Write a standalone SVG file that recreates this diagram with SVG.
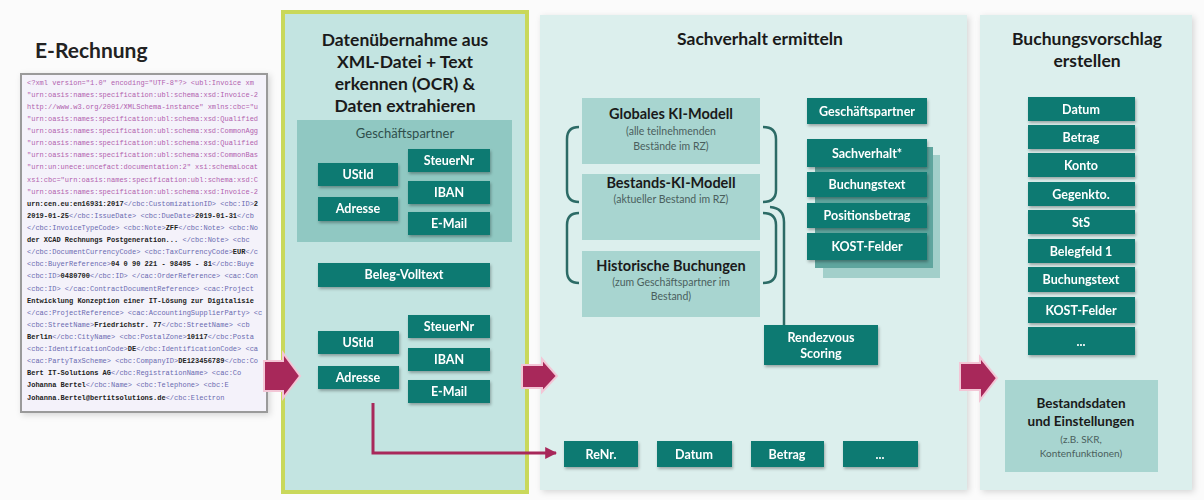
<svg xmlns="http://www.w3.org/2000/svg" width="1204" height="500" viewBox="0 0 1204 500">
<defs>
<style>
text{font-family:Lato,"Open Sans","Liberation Sans",sans-serif}
.box{fill:#0f7a72}
.bt{fill:#ffffff;font-weight:bold;font-size:12.5px;text-anchor:middle}
.title{fill:#1a1a1a;font-weight:bold;font-size:17.5px;text-anchor:middle}
.model{fill:#a8d5d0}
.mt{fill:#1a1a1a;font-weight:bold;font-size:14.5px;text-anchor:middle}
.ms{fill:#4a5f5d;font-size:10.5px;text-anchor:middle}
.brk{fill:none;stroke:#2c6b66;stroke-width:2.5}
.arrow{fill:#a8285a;stroke:#f3c6d6;stroke-width:2}
.xml text{font-family:"Liberation Mono","DejaVu Sans Mono",monospace;font-size:7px}
.xp{fill:#b25fae}
.xb{fill:#6a6ab0}
.xk{fill:#222;font-weight:bold}
</style>
<filter id="sh" x="-20%" y="-20%" width="140%" height="150%">
<feDropShadow dx="1" dy="2" stdDeviation="1.5" flood-color="#000" flood-opacity="0.3"/>
</filter>
<filter id="psh" x="-5%" y="-5%" width="110%" height="110%">
<feDropShadow dx="2" dy="2" stdDeviation="3" flood-color="#000" flood-opacity="0.15"/>
</filter>
<marker id="ah" viewBox="0 0 10 10" refX="9" refY="5" markerWidth="4" markerHeight="4" orient="auto">
<path d="M0,0 L10,5 L0,10 z" fill="#a8285a"/>
</marker>
</defs>
<rect x="0" y="0" width="1204" height="500" fill="#fbfbfb"/>

<!-- E-Rechnung -->
<g id="erechnung">
<text x="35" y="58" style="font-weight:bold;font-size:21px;fill:#222">E-Rechnung</text>
<rect x="21" y="74" width="246" height="338" fill="#f4f2fa" stroke="#9a9a9a" stroke-width="2" filter="url(#psh)"/>
<g class="xml">
<text x="27" y="85" class="xp">&lt;?xml version="1.0" encoding="UTF-8"?&gt; &lt;ubl:Invoice xm</text>
<text x="27" y="97" class="xp">"urn:oasis:names:specification:ubl:schema:xsd:Invoice-2</text>
<text x="27" y="109" class="xp">http://www.w3.org/2001/XMLSchema-instance" xmlns:cbc="u</text>
<text x="27" y="121" class="xp">"urn:oasis:names:specification:ubl:schema:xsd:Qualified</text>
<text x="27" y="133" class="xp">"urn:oasis:names:specification:ubl:schema:xsd:CommonAgg</text>
<text x="27" y="145" class="xp">"urn:oasis:names:specification:ubl:schema:xsd:Qualified</text>
<text x="27" y="157" class="xp">"urn:oasis:names:specification:ubl:schema:xsd:CommonBas</text>
<text x="27" y="169" class="xp">"urn:un:unece:uncefact:documentation:2" xsi:schemaLocat</text>
<text x="27" y="182" class="xp">xsi:cbc="urn:oasis:names:specification:ubl:schema:xsd:C</text>
<text x="27" y="194" class="xp">"urn:oasis:names:specification:ubl:schema:xsd:Invoice-2</text>
<text x="27" y="206" class="xb"><tspan class="xk">urn:cen.eu:en16931:2017</tspan>&lt;/cbc:CustomizationID&gt; &lt;cbc:ID&gt;<tspan class="xk">2</tspan></text>
<text x="27" y="218" class="xb"><tspan class="xk">2019-01-25</tspan>&lt;/cbc:IssueDate&gt; &lt;cbc:DueDate&gt;<tspan class="xk">2019-01-31</tspan>&lt;/cb</text>
<text x="27" y="230" class="xb">&lt;/cbc:InvoiceTypeCode&gt; &lt;cbc:Note&gt;<tspan class="xk">ZFF</tspan>&lt;/cbc:Note&gt; &lt;cbc:No</text>
<text x="27" y="242" class="xb"><tspan class="xk">der XCAD Rechnungs Postgeneration...</tspan> &lt;/cbc:Note&gt; &lt;cbc</text>
<text x="27" y="254" class="xb">&lt;/cbc:DocumentCurrencyCode&gt; &lt;cbc:TaxCurrencyCode&gt;<tspan class="xk">EUR</tspan>&lt;/c</text>
<text x="27" y="266" class="xb">&lt;cbc:BuyerReference&gt;<tspan class="xk">04 0 90 221 - 98495 - 81</tspan>&lt;/cbc:Buye</text>
<text x="27" y="278" class="xb">&lt;cbc:ID&gt;<tspan class="xk">0480700</tspan>&lt;/cbc:ID&gt; &lt;/cac:OrderReference&gt; &lt;cac:Con</text>
<text x="27" y="291" class="xb">&lt;cbc:ID&gt; &lt;/cac:ContractDocumentReference&gt; &lt;cac:Project</text>
<text x="27" y="303" class="xk">Entwicklung Konzeption einer IT-Lösung zur Digitalisie</text>
<text x="27" y="315" class="xb">&lt;/cac:ProjectReference&gt; &lt;cac:AccountingSupplierParty&gt; &lt;c</text>
<text x="27" y="327" class="xb">&lt;cbc:StreetName&gt;<tspan class="xk">Friedrichstr. 77</tspan>&lt;/cbc:StreetName&gt; &lt;cb</text>
<text x="27" y="339" class="xb"><tspan class="xk">Berlin</tspan>&lt;/cbc:CityName&gt; &lt;cbc:PostalZone&gt;<tspan class="xk">10117</tspan>&lt;/cbc:Posta</text>
<text x="27" y="351" class="xb">&lt;cbc:IdentificationCode&gt;<tspan class="xk">DE</tspan>&lt;/cbc:IdentificationCode&gt; &lt;ca</text>
<text x="27" y="363" class="xb">&lt;cac:PartyTaxScheme&gt; &lt;cbc:CompanyID&gt;<tspan class="xk">DE123456789</tspan>&lt;/cbc:Co</text>
<text x="27" y="375" class="xb"><tspan class="xk">Bert IT-Solutions AG</tspan>&lt;/cbc:RegistrationName&gt; &lt;cac:Co</text>
<text x="27" y="387" class="xb"><tspan class="xk">Johanna Bertel</tspan>&lt;/cbc:Name&gt; &lt;cbc:Telephone&gt; &lt;cbc:E</text>
<text x="27" y="400" class="xb"><tspan class="xk">Johanna.Bertel@bertitsolutions.de</tspan>&lt;/cbc:Electron</text>
</g>
</g>

<!-- Column 2 -->
<g id="datenuebernahme">
<rect x="283" y="12" width="244" height="480" fill="#c3e4e1" stroke="#c9d85a" stroke-width="4"/>
<text class="title" x="405" y="46">Datenübernahme aus</text>
<text class="title" x="405" y="68">XML-Datei + Text</text>
<text class="title" x="405" y="90">erkennen (OCR) &amp;</text>
<text class="title" x="405" y="112">Daten extrahieren</text>
</g>
<g id="gp-panel">
<rect x="297" y="120" width="215" height="122" fill="#90c8c2"/>
<text x="405" y="138" style="fill:#2f4f4c;font-size:13px;text-anchor:middle">Geschäftspartner</text>
</g>
<g id="ustid1" filter="url(#sh)"><rect class="box" x="318" y="163" width="80" height="23"/><text class="bt" x="358" y="179">UStId</text></g>
<g id="adresse1" filter="url(#sh)"><rect class="box" x="318" y="197" width="80" height="24"/><text class="bt" x="358" y="213">Adresse</text></g>
<g id="steuernr1" filter="url(#sh)"><rect class="box" x="408" y="149" width="82" height="23"/><text class="bt" x="449" y="165">SteuerNr</text></g>
<g id="iban1" filter="url(#sh)"><rect class="box" x="408" y="181" width="82" height="23"/><text class="bt" x="449" y="197">IBAN</text></g>
<g id="email1" filter="url(#sh)"><rect class="box" x="408" y="212" width="82" height="23"/><text class="bt" x="449" y="228">E-Mail</text></g>
<g id="belegvolltext" filter="url(#sh)"><rect class="box" x="318" y="263" width="172" height="24"/><text class="bt" x="404" y="279">Beleg-Volltext</text></g>
<g id="ustid2" filter="url(#sh)"><rect class="box" x="318" y="331" width="81" height="23"/><text class="bt" x="358" y="347">UStId</text></g>
<g id="adresse2" filter="url(#sh)"><rect class="box" x="318" y="366" width="81" height="23"/><text class="bt" x="358" y="382">Adresse</text></g>
<g id="steuernr2" filter="url(#sh)"><rect class="box" x="408" y="315" width="82" height="23"/><text class="bt" x="449" y="331">SteuerNr</text></g>
<g id="iban2" filter="url(#sh)"><rect class="box" x="408" y="348" width="82" height="23"/><text class="bt" x="449" y="364">IBAN</text></g>
<g id="email2" filter="url(#sh)"><rect class="box" x="408" y="380" width="82" height="23"/><text class="bt" x="449" y="396">E-Mail</text></g>

<!-- Column 3 -->
<g id="sachverhalt">
<rect x="540" y="15" width="427" height="475" fill="#dcefed" filter="url(#psh)"/>
<text class="title" x="760" y="45">Sachverhalt ermitteln</text>
</g>
<g id="globales"><rect class="model" x="582" y="98" width="178" height="66"/>
<text class="mt" x="671" y="119">Globales KI-Modell</text>
<text class="ms" x="671" y="135">(alle teilnehmenden</text>
<text class="ms" x="671" y="150">Bestände im RZ)</text></g>
<g id="bestands"><rect class="model" x="582" y="174" width="178" height="66"/>
<text class="mt" x="671" y="188">Bestands-KI-Modell</text>
<text class="ms" x="671" y="203">(aktueller Bestand im RZ)</text></g>
<g id="historische"><rect class="model" x="582" y="251" width="178" height="66"/>
<text class="mt" x="671" y="271">Historische Buchungen</text>
<text class="ms" x="671" y="286">(zum Geschäftspartner im</text>
<text class="ms" x="671" y="300">Bestand)</text></g>
<g id="gp3" filter="url(#sh)"><rect class="box" x="807" y="98" width="120" height="26"/><text class="bt" x="867" y="116">Geschäftspartner</text></g>
<g id="stack">
<rect x="823" y="155" width="117" height="123" fill="#a2cfca"/>
<rect x="815" y="147" width="118" height="121" fill="#5fa59e"/>
</g>
<g id="sachverhaltstern" filter="url(#sh)"><rect class="box" x="807" y="139" width="120" height="28"/><text class="bt" x="867" y="158">Sachverhalt*</text></g>
<g id="buchungstext3" filter="url(#sh)"><rect class="box" x="807" y="172" width="120" height="25"/><text class="bt" x="867" y="189">Buchungstext</text></g>
<g id="positionsbetrag" filter="url(#sh)"><rect class="box" x="807" y="203" width="120" height="25"/><text class="bt" x="867" y="220">Positionsbetrag</text></g>
<g id="kost3" filter="url(#sh)"><rect class="box" x="807" y="233" width="120" height="27"/><text class="bt" x="867" y="251">KOST-Felder</text></g>
<g id="rendezvous" filter="url(#sh)"><rect class="box" x="764" y="325" width="114" height="40"/><text class="bt" x="821" y="342">Rendezvous</text><text class="bt" x="821" y="358">Scoring</text></g>
<g id="renr" filter="url(#sh)"><rect class="box" x="564" y="441" width="74" height="26"/><text class="bt" x="601" y="459">ReNr.</text></g>
<g id="datum3" filter="url(#sh)"><rect class="box" x="657" y="441" width="75" height="26"/><text class="bt" x="694" y="459">Datum</text></g>
<g id="betrag3" filter="url(#sh)"><rect class="box" x="751" y="441" width="73" height="26"/><text class="bt" x="787" y="459">Betrag</text></g>
<g id="dots3" filter="url(#sh)"><rect class="box" x="843" y="441" width="75" height="26"/><text class="bt" x="880" y="459">...</text></g>

<!-- Column 4 -->
<g id="buchungsvorschlag">
<rect x="980" y="15" width="212" height="475" fill="#dcefed" filter="url(#psh)"/>
<text class="title" x="1087" y="45">Buchungsvorschlag</text>
<text class="title" x="1087" y="67">erstellen</text>
</g>
<g id="datum4" filter="url(#sh)"><rect class="box" x="1028" y="97" width="107" height="24"/><text class="bt" x="1081" y="114">Datum</text></g>
<g id="betrag4" filter="url(#sh)"><rect class="box" x="1028" y="125" width="107" height="24"/><text class="bt" x="1081" y="142">Betrag</text></g>
<g id="konto" filter="url(#sh)"><rect class="box" x="1028" y="153" width="107" height="24"/><text class="bt" x="1081" y="170">Konto</text></g>
<g id="gegenkto" filter="url(#sh)"><rect class="box" x="1028" y="182" width="107" height="24"/><text class="bt" x="1081" y="199">Gegenkto.</text></g>
<g id="sts" filter="url(#sh)"><rect class="box" x="1028" y="210" width="107" height="24"/><text class="bt" x="1081" y="227">StS</text></g>
<g id="belegfeld" filter="url(#sh)"><rect class="box" x="1028" y="239" width="107" height="24"/><text class="bt" x="1081" y="256">Belegfeld 1</text></g>
<g id="buchungstext4" filter="url(#sh)"><rect class="box" x="1028" y="267" width="107" height="25"/><text class="bt" x="1081" y="284">Buchungstext</text></g>
<g id="kost4" filter="url(#sh)"><rect class="box" x="1028" y="297" width="107" height="26"/><text class="bt" x="1081" y="315">KOST-Felder</text></g>
<g id="dots4" filter="url(#sh)"><rect class="box" x="1028" y="327" width="107" height="28"/><text class="bt" x="1081" y="346">...</text></g>
<g id="bestandsdaten"><rect class="model" x="1005" y="380" width="153" height="92"/>
<text class="mt" x="1081" y="408" style="font-size:13.5px">Bestandsdaten</text>
<text class="mt" x="1081" y="426" style="font-size:13.5px">und Einstellungen</text>
<text class="ms" x="1081" y="443" style="font-size:10px">(z.B. SKR,</text>
<text class="ms" x="1081" y="457" style="font-size:10px">Kontenfunktionen)</text></g>

<!-- Connectors -->
<g id="connectors">
<path class="brk" d="M579,127 Q567,127 567,139 L567,190 Q567,202 579,202"/>
<path class="brk" d="M763,127 Q776,127 776,139 L776,190 Q776,202 763,202"/>
<path class="brk" d="M579,213 Q567,213 567,225 L567,271 Q567,283 579,283"/>
<path class="brk" d="M763,213 Q776,213 776,225 L776,271 Q776,283 763,283"/>
<path class="brk" d="M770,207 Q784,208 784,222 L784,325"/>
<path d="M373,403 L373,453 L556,453" fill="none" stroke="#a8285a" stroke-width="3" marker-end="url(#ah)"/>
<path class="arrow" d="M264,361 L283,361 L283,353 L300,376 L283,398 L283,391 L264,391 Z"/>
<path class="arrow" d="M522,365 L542,365 L542,359 L557,376 L542,392 L542,388 L522,388 Z"/>
<path class="arrow" d="M960,363 L980,363 L980,357 L997,378 L980,400 L980,390 L960,390 Z"/>
</g>
</svg>
